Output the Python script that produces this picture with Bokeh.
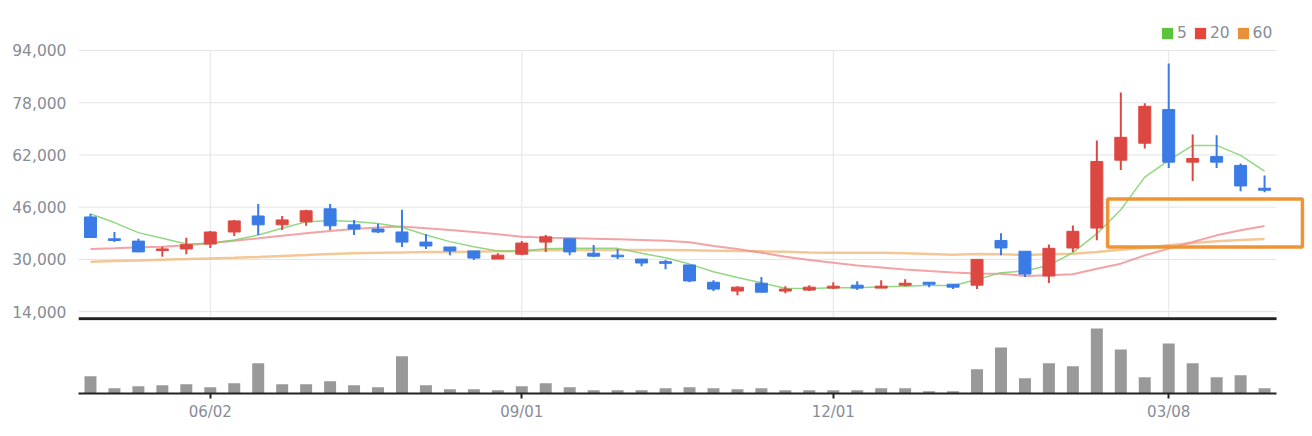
from bokeh.plotting import figure
from bokeh.layouts import column
from bokeh.models import (ColumnDataSource, Range1d, FixedTicker, NumeralTickFormatter,
                          Legend, LegendItem, BoxAnnotation)
from bokeh.embed import file_html
from bokeh.resources import INLINE

# weekly candles
opens = [43000, 36300, 35600, 32700, 33200, 34700, 38400, 43300, 40600, 41500,
         45500, 40600, 39300, 38400, 35300, 33800, 32600, 30100, 31600, 35300,
         36300, 31900, 31300, 30100, 29300, 28300, 23000, 20300, 22700, 20300,
         20600, 21200, 22100, 21200, 22100, 23000, 22400, 22100, 35800, 32500,
         24900, 33500, 39600, 60400, 65600, 75900, 59800, 61500, 58800, 51800]
highs = [44000, 38400, 36300, 33900, 36600, 38700, 42100, 47000, 43300, 45200,
         47000, 42100, 40900, 45200, 37800, 33800, 32600, 31900, 35600, 37500,
         36300, 34400, 33200, 30100, 29800, 28300, 23600, 21800, 24600, 21800,
         22100, 23000, 23300, 23600, 23900, 23000, 22400, 30000, 38000, 32500,
         34600, 40400, 66400, 81100, 77800, 90000, 68300, 68000, 59400, 55700]
lows = [36600, 35300, 32200, 30800, 31600, 33500, 37200, 37500, 39000, 40300,
        39000, 37500, 38100, 33800, 33200, 31300, 29800, 30100, 31300, 32300,
        31300, 30700, 30100, 27900, 27000, 23000, 20300, 19000, 19900, 19600,
        20300, 20900, 20600, 21200, 21800, 21500, 20900, 20900, 31300, 24600,
        22800, 32300, 35900, 57400, 64000, 58000, 54000, 58000, 50900, 50600]
closes = [36700, 35800, 32300, 33200, 34500, 38400, 41800, 40600, 42100, 44900,
          40300, 39300, 38400, 35300, 34100, 32600, 30400, 31300, 35000, 36900,
          32300, 31000, 30800, 28900, 28800, 23400, 20900, 21500, 19950, 20900,
          21500, 21800, 21200, 21800, 22700, 22400, 21500, 30000, 33500, 25500,
          33400, 38600, 60000, 67400, 76900, 59800, 60900, 59800, 52500, 51200]

ma5 = [43950, 41280, 38200, 36460, 34720, 34920, 35950, 37490, 39540, 41490,
       41900, 41590, 41000, 39850, 37490, 35440, 33900, 32560, 32560, 33280,
       33380, 33380, 33380, 31850, 30500, 28560, 26200, 24460, 22820, 21180,
       21080, 21280, 21280, 21590, 21800, 22100, 21900, 23850, 25940, 26450,
       28180, 32060, 37880, 45220, 55220, 60330, 64920, 64920, 61860, 57060]
ma20 = [33180, 33390, 33690, 33900, 34310, 34920, 35740, 36460, 37280, 38000,
        38720, 39330, 39800, 40050, 39540, 39030, 38410, 37690, 36970, 36670,
        36560, 36360, 36150, 35950, 35700, 35230, 34100, 33180, 32050, 30820,
        29800, 28980, 28150, 27540, 26920, 26410, 26000, 25690, 25630, 24920,
        25120, 25430, 27160, 28690, 31240, 33290, 35330, 37370, 38900, 40220]
ma60 = [29280, 29490, 29690, 29900, 30100, 30310, 30510, 30720, 31030, 31330,
        31640, 31850, 32050, 32150, 32260, 32260, 32360, 32460, 32560, 32770,
        32870, 32870, 32870, 32870, 32870, 32770, 32670, 32560, 32460, 32360,
        32150, 32050, 32050, 32050, 31850, 31640, 31440, 31640, 31550, 31350,
        31550, 31760, 32270, 32980, 33590, 34310, 35020, 35530, 35940, 36240]

volumes = [52, 16, 22, 25, 28, 19, 31, 91, 28, 28, 37, 25, 19, 112, 25, 13, 13, 10, 22, 31,
           19, 10, 10, 10, 16, 19, 16, 13, 16, 10, 10, 10, 10, 16, 16, 7, 7, 73, 139, 46,
           91, 82, 196, 133, 49, 151, 91, 49, 55, 16]
volumes = [v * 1000 for v in volumes]

tick_idx = [5, 18, 31, 45]
tick_labels = ["06/02", "09/01", "12/01", "03/08"]
price_ticks = [14000, 30000, 46000, 62000, 78000, 94000]
price_floor = 11800   # where the price pane's base rule sits

ma_names = ["5", "20", "60"]
ma_colors = ["#5cc43c", "#e8463d", "#e8903a"]

# highlighted zone (index range, price range)
zone_x = (42.45, 50.58)
zone_y = (33770, 48540)

UP = "#dc4841"
DOWN = "#3a7be6"
GRAY_TXT = "#878c97"
GRID = "#e3e4e8"
FONT = "DejaVu Sans"

xs = list(range(len(opens)))
x_first, x_last = -0.5, len(opens) - 0.5

src = ColumnDataSource(dict(
    x=xs,
    low=lows,
    high=highs,
    top=[max(o, c) for o, c in zip(opens, closes)],
    bottom=[min(o, c) for o, c in zip(opens, closes)],
    color=[UP if c > o else DOWN for o, c in zip(opens, closes)],
))

# frame runs a bit past the candles (right and top) so the zone box and legend fit
x_range = Range1d(x_first, 50.75)

p = figure(frame_width=1228, frame_height=300, min_border_left=78, min_border_right=0,
           min_border_top=20, min_border_bottom=2, x_range=x_range,
           y_range=Range1d(11280, 103190), output_backend="svg", toolbar_location=None)
p.outline_line_color = None

p.yaxis.ticker = FixedTicker(ticks=price_ticks)
p.yaxis.formatter = NumeralTickFormatter(format="0,0")
p.yaxis.axis_line_color = None
p.yaxis.major_tick_line_color = None
p.yaxis.minor_tick_line_color = None
p.yaxis.major_label_text_font = FONT
p.yaxis.major_label_text_font_size = "15.5px"
p.yaxis.major_label_text_color = GRAY_TXT
p.yaxis.major_label_standoff = 6

p.xaxis.visible = False
p.grid.visible = False

# grid rules limited to the candle area
n_h = len(price_ticks)
p.segment(x0=[x_first] * n_h, x1=[x_last] * n_h, y0=price_ticks, y1=price_ticks,
          line_color=GRID, line_width=1, level="underlay")
n_v = len(tick_idx)
p.segment(x0=tick_idx, x1=tick_idx, y0=[price_floor] * n_v, y1=[max(price_ticks)] * n_v,
          line_color=GRID, line_width=1, level="underlay")

p.line(xs, ma60, line_color="#f0b97c", line_width=2.5, line_alpha=0.8)
p.line(xs, ma20, line_color="#f08c8f", line_width=2, line_alpha=0.8)
p.line(xs, ma5, line_color="#7fd06b", line_width=1.5, line_alpha=0.85)

p.segment(x0="x", y0="low", x1="x", y1="high", line_color="color", line_width=2, source=src)
p.vbar(x="x", width=0.5, top="top", bottom="bottom", fill_color="color",
       line_color="color", line_width=1, source=src)

# base rule of the price pane
p.segment(x0=[x_first], x1=[x_last], y0=[price_floor], y1=[price_floor],
          line_color="#222222", line_width=3)

box = BoxAnnotation(left=zone_x[0], right=zone_x[1], bottom=zone_y[0], top=zone_y[1],
                    fill_alpha=0, line_color="#ef9436", line_width=3.5, line_alpha=1)
p.add_layout(box)

# legend swatches (one off-range point each, so the legend has something to draw)
items = []
for name, col in zip(ma_names, ma_colors):
    r = p.vbar(x=[-10], top=[0], bottom=[0], width=0.5, fill_color=col, line_color=None)
    items.append(LegendItem(label=name, renderers=[r]))
legend = Legend(items=items, orientation="horizontal", location=(1082, 278),
                glyph_width=14, glyph_height=14, label_height=14, label_width=0,
                label_standoff=3, spacing=6, padding=0, margin=0,
                border_line_color=None, background_fill_alpha=0,
                label_text_font=FONT, label_text_font_size="15.5px",
                label_text_color=GRAY_TXT)
p.add_layout(legend)

v = figure(frame_width=1228, frame_height=71, min_border_left=78, min_border_right=0,
           min_border_top=0, min_border_bottom=10, x_range=x_range,
           y_range=Range1d(0, max(volumes) * 71 / 65), output_backend="svg",
           toolbar_location=None)
v.outline_line_color = None
v.yaxis.visible = False
v.grid.visible = False
v.xaxis.ticker = FixedTicker(ticks=tick_idx)
v.xaxis.bounds = (x_first, x_last)
v.xaxis.major_label_overrides = dict(zip(tick_idx, tick_labels))
v.xaxis.axis_line_width = 2
v.xaxis.axis_line_color = "#222222"
v.xaxis.major_tick_line_width = 2
v.xaxis.major_tick_line_color = "#222222"
v.xaxis.major_tick_out = 5
v.xaxis.major_tick_in = 0
v.xaxis.minor_tick_line_color = None
v.xaxis.major_label_text_font = FONT
v.xaxis.major_label_text_font_size = "15px"
v.xaxis.major_label_text_color = GRAY_TXT
v.xaxis.major_label_standoff = 4

v.vbar(x=xs, top=volumes, width=0.5, fill_color="#999999", line_color=None)

layout = column(p, v)
open("out.html", "w").write(file_html(layout, INLINE))
